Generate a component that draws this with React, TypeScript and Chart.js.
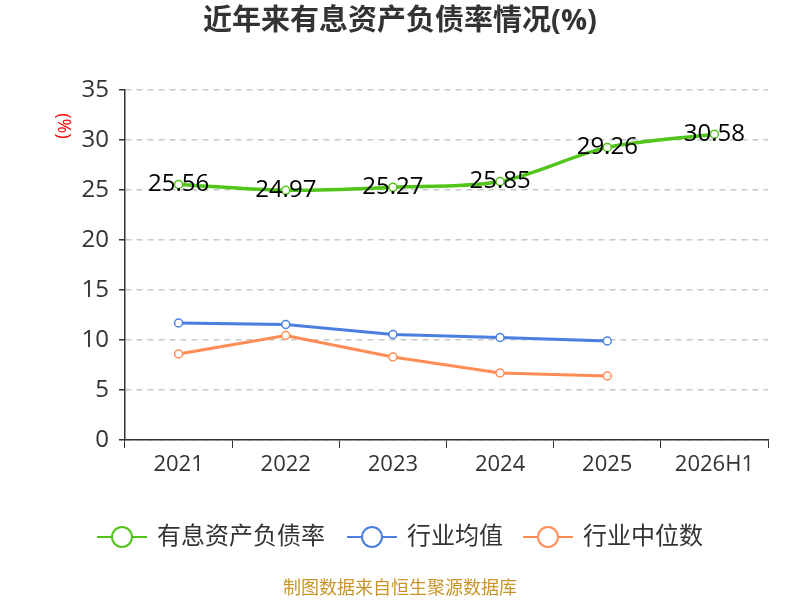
import { Chart, registerables } from 'chart.js';
import { useEffect, useRef } from 'react';

Chart.register(...registerables);

const years = ['2021', '2022', '2023', '2024', '2025', '2026H1'];
const debtRatio = [25.56, 24.97, 25.27, 25.85, 29.26, 30.58];
const industryAvg = [11.7, 11.55, 10.55, 10.25, 9.9, null];
const industryMedian = [8.6, 10.45, 8.3, 6.7, 6.4, null];
const seriesNames = ['有息资产负债率', '行业均值', '行业中位数'];
const seriesColors = ['#52c41a', '#4a7fe0', '#ff8c55'];

const FONT = "'Open Sans', 'Noto Sans CJK SC', sans-serif";

// where each legend entry starts (line start x)
const legendX = [97, 347, 523];

const decorPlugin = {
    id: 'decor',
    afterDatasetsDraw(chart) {
        const ctx = chart.ctx;
        // value labels on the main series
        const meta = chart.getDatasetMeta(0);
        ctx.save();
        ctx.font = `24px ${FONT}`;
        ctx.fillStyle = '#000';
        ctx.textAlign = 'center';
        ctx.textBaseline = 'middle';
        meta.data.forEach((pt, i) => {
            ctx.fillText(debtRatio[i].toFixed(2), pt.x, pt.y);
        });
        ctx.restore();
    },
    afterDraw(chart) {
        const ctx = chart.ctx;
        ctx.save();
        // title
        ctx.font = `bold 29px ${FONT}`;
        ctx.fillStyle = '#333';
        ctx.textAlign = 'center';
        ctx.textBaseline = 'middle';
        ctx.fillText('近年来有息资产负债率情况(%)', 400, 22);

        // axis unit
        ctx.save();
        ctx.translate(63, 126);
        ctx.rotate(Math.PI / 2);
        ctx.font = `18px ${FONT}`;
        ctx.fillStyle = '#ff0000';
        ctx.fillText('(%)', 0, 0);
        ctx.restore();

        // legend
        const ly = 537;
        seriesNames.forEach((name, i) => {
            const x0 = legendX[i];
            ctx.strokeStyle = seriesColors[i];
            ctx.lineWidth = 2;
            ctx.beginPath();
            ctx.moveTo(x0, ly);
            ctx.lineTo(x0 + 50, ly);
            ctx.stroke();
            ctx.beginPath();
            ctx.arc(x0 + 25, ly, 10, 0, Math.PI * 2);
            ctx.fillStyle = '#fff';
            ctx.fill();
            ctx.stroke();
            ctx.font = `24px ${FONT}`;
            ctx.fillStyle = '#333';
            ctx.textAlign = 'left';
            ctx.fillText(name, x0 + 60, ly);
        });

        // source note
        ctx.font = `18px ${FONT}`;
        ctx.fillStyle = '#c8952a';
        ctx.textAlign = 'center';
        ctx.fillText('制图数据来自恒生聚源数据库', 400, 589);
        ctx.restore();
    },
};

export default function App() {
    const chartRef = useRef(null);

    useEffect(() => {
        document.body.style.margin = '0';
        const mk = (i, values, tension, width) => ({
            label: seriesNames[i],
            data: values,
            borderColor: seriesColors[i],
            backgroundColor: '#fff',
            pointBackgroundColor: '#fff',
            pointBorderColor: seriesColors[i],
            pointBorderWidth: 1.5,
            pointRadius: 4,
            borderWidth: width,
            tension: tension,
        });
        const config = {
            type: 'line',
            data: {
                labels: years,
                datasets: [
                    mk(0, debtRatio, 0.3, 3.5),
                    mk(1, industryAvg, 0, 3),
                    mk(2, industryMedian, 0, 3),
                ],
            },
            options: {
                animation: false,
                responsive: false,
                layout: { padding: { top: 90, left: 0, right: 32, bottom: 110 } },
                plugins: {
                    legend: { display: false },
                    title: { display: false },
                    tooltip: { enabled: false },
                },
                scales: {
                    x: {
                        offset: true,
                        afterFit: (s) => { s.height = 50; },
                        grid: {
                            offset: true,
                            drawOnChartArea: false,
                            tickLength: 8,
                            tickColor: '#333',
                        },
                        border: { color: '#333', width: 1.5 },
                        ticks: { color: '#333', font: { size: 22, family: FONT }, padding: 4 },
                    },
                    y: {
                        min: 0,
                        max: 35,
                        afterFit: (s) => { s.width = 125; },
                        grid: {
                            color: '#c8c8c8',
                            tickLength: 6,
                            tickColor: '#333',
                            lineWidth: 1.5,
                        },
                        border: { color: '#333', width: 1.5, dash: [6, 5] },
                        ticks: { stepSize: 5, color: '#333', font: { size: 24, family: FONT }, padding: 10 },
                    },
                },
            },
            plugins: [decorPlugin],
        };
        const myChart = new Chart(chartRef.current, config);
        return () => {
            myChart.destroy();
        };
    }, []);

    return (
        <div style={{ width: 800, height: 600 }}>
            <canvas ref={chartRef} width={800} height={600}></canvas>
        </div>
    );
}
